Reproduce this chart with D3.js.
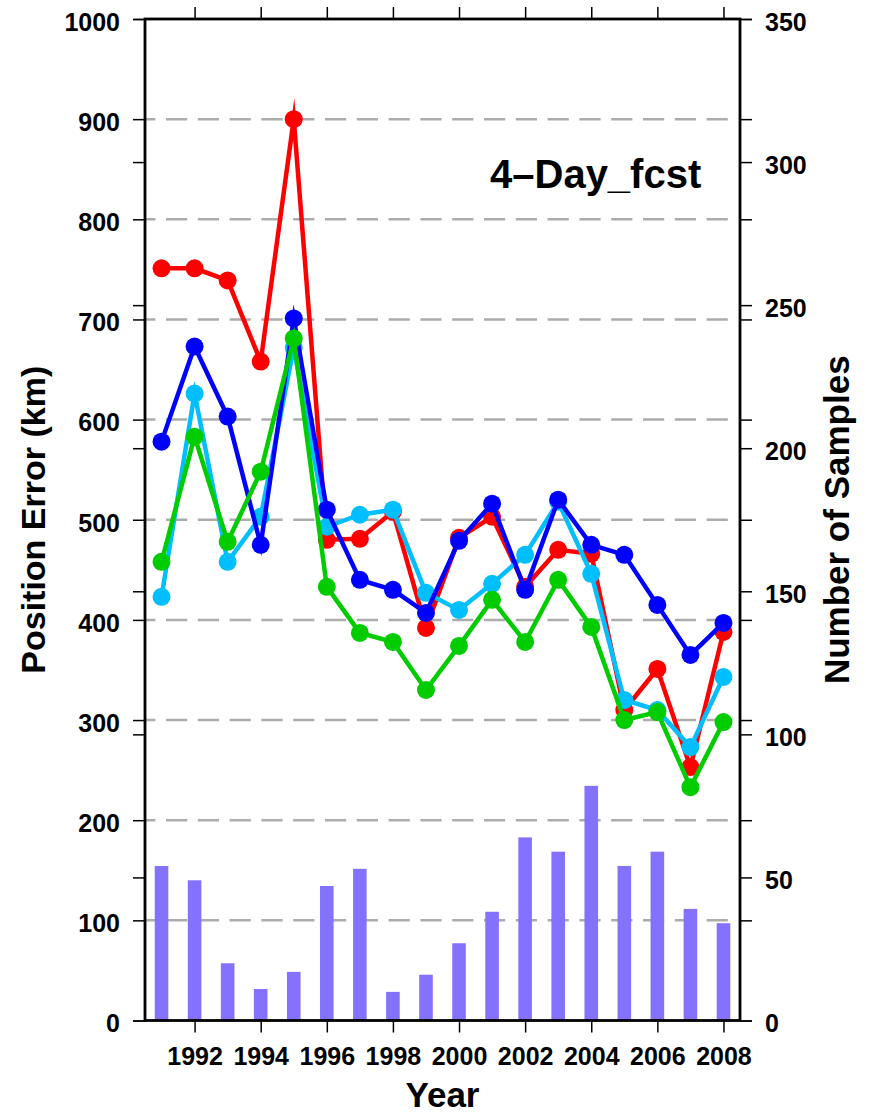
<!DOCTYPE html>
<html>
<head>
<meta charset="utf-8">
<script src="https://cdn.jsdelivr.net/npm/d3@7"></script>
<style>
  body { margin: 0; background: #fff; }
  text { font-family: "Liberation Sans", Arial, Helvetica, sans-serif; font-weight: bold; fill: #000; }
</style>
</head>
<body>
<svg id="chart" width="873" height="1114"></svg>
<script>
// Forecast years
const years = [1991, 1992, 1993, 1994, 1995, 1996, 1997, 1998, 1999,
               2000, 2001, 2002, 2003, 2004, 2005, 2006, 2007, 2008];

// Number of verified samples per year (right axis, bars)
const sampleCounts = [54, 49, 20, 11, 17, 47, 53, 10, 16, 27, 38, 64, 59, 82, 54, 59, 39, 34];

// 4-day position errors in km (left axis), one list per model
const errorRed   = [751, 751, 739, 658, 900, 480, 481, 508, 392, 482, 503, 433, 470, 466, 310, 351, 253, 388];
const errorCyan  = [423, 626, 458, 503, 672, 493, 505, 510, 427, 410, 436, 465, 518, 446, 320, 310, 273, 343];
const errorBlue  = [578, 673, 603, 475, 701, 510, 440, 430, 407, 479, 516, 430, 520, 475, 465, 415, 365, 397];
const errorGreen = [458, 583, 478, 548, 681, 433, 387, 378, 330, 374, 420, 378, 440, 393, 300, 308, 233, 298];

// Tick labels
const errorTicks  = [0, 100, 200, 300, 400, 500, 600, 700, 800, 900, 1000];
const sampleTicks = [0, 50, 100, 150, 200, 250, 300, 350];
const yearTicks   = [1992, 1994, 1996, 1998, 2000, 2002, 2004, 2006, 2008];
const gridLevels  = [100, 200, 300, 400, 500, 600, 700, 800, 900];

const svg = d3.select("#chart");
const plot = { left: 145, right: 740, top: 19, bottom: 1020.5 };

const x = d3.scaleLinear().domain([1990.5, 2008.5]).range([plot.left, plot.right]);
const yErr = d3.scaleLinear().domain([0, 1000]).range([plot.bottom, plot.top]);
const ySamp = d3.scaleLinear().domain([0, 350]).range([plot.bottom, plot.top]);

svg.append("rect").attr("width", 873).attr("height", 1114).attr("fill", "#fff");

// Dashed reference lines
svg.append("g").selectAll("line").data(gridLevels).join("line")
  .attr("x1", plot.left).attr("x2", plot.right - 11)
  .attr("y1", d => yErr(d)).attr("y2", d => yErr(d))
  .attr("stroke", "#acacac").attr("stroke-width", 2.5)
  .attr("stroke-dasharray", "21.2 10.6").attr("stroke-dashoffset", 10.8);

// Sample-count bars
const barW = 13.6;
svg.append("g").selectAll("rect").data(sampleCounts).join("rect")
  .attr("x", (d, i) => x(years[i]) - barW / 2)
  .attr("width", barW)
  .attr("y", d => ySamp(d))
  .attr("height", d => ySamp(0) - ySamp(d))
  .attr("fill", "#8472ff");

// Error series
const series = [
  { values: errorRed,   color: "#ff0000" },
  { values: errorCyan,  color: "#00bfff" },
  { values: errorBlue,  color: "#0000ff" },
  { values: errorGreen, color: "#00cc00" }
];
const line = d3.line().x((d, i) => x(years[i])).y(d => yErr(d));

series.forEach(s => {
  const g = svg.append("g");
  g.append("path").datum(s.values)
    .attr("d", line)
    .attr("fill", "none")
    .attr("stroke", s.color)
    .attr("stroke-width", 4.5)
    .attr("stroke-linejoin", "miter")
    .attr("stroke-miterlimit", 12);
  g.selectAll("circle").data(s.values).join("circle")
    .attr("cx", (d, i) => x(years[i]))
    .attr("cy", d => yErr(d))
    .attr("r", 9)
    .attr("fill", s.color);
});

// Axes
const tickLen = 12;
function styleAxis(g, fontSize) {
  g.select(".domain").remove();
  g.selectAll(".tick line").attr("stroke", "#000").attr("stroke-width", 1.5);
  g.selectAll(".tick text").attr("font-size", fontSize)
    .style("font-family", "'Liberation Sans', Arial, sans-serif").style("font-weight", "bold");
}

// Left: labelled error ticks plus unlabelled sample ticks
svg.append("g").attr("transform", `translate(${plot.left},0)`)
  .call(d3.axisLeft(yErr).tickValues(errorTicks).tickSize(tickLen).tickPadding(13).tickFormat(d3.format("d")))
  .call(g => styleAxis(g, 25))
  .call(g => g.selectAll(".tick text").attr("dy", "0.45em"));
svg.append("g").attr("transform", `translate(${plot.left},0)`)
  .call(d3.axisLeft(ySamp).tickValues(sampleTicks).tickSize(tickLen).tickFormat(""))
  .call(g => styleAxis(g, 25));

// Right: labelled sample ticks plus unlabelled error ticks
svg.append("g").attr("transform", `translate(${plot.right},0)`)
  .call(d3.axisRight(ySamp).tickValues(sampleTicks).tickSize(tickLen).tickPadding(13).tickFormat(d3.format("d")))
  .call(g => styleAxis(g, 25))
  .call(g => g.selectAll(".tick text").attr("dy", "0.45em"));
svg.append("g").attr("transform", `translate(${plot.right},0)`)
  .call(d3.axisRight(yErr).tickValues(errorTicks).tickSize(tickLen).tickFormat(""))
  .call(g => styleAxis(g, 25));

// Bottom and top year ticks
svg.append("g").attr("transform", `translate(0,${plot.bottom})`)
  .call(d3.axisBottom(x).tickValues(yearTicks).tickSize(tickLen).tickPadding(15).tickFormat(d3.format("d")))
  .call(g => styleAxis(g, 25));
svg.append("g").attr("transform", `translate(0,${plot.top})`)
  .call(d3.axisTop(x).tickValues(yearTicks).tickSize(tickLen).tickFormat(""))
  .call(g => styleAxis(g, 25));

// Plot frame
svg.append("rect")
  .attr("x", plot.left).attr("y", plot.top)
  .attr("width", plot.right - plot.left).attr("height", plot.bottom - plot.top)
  .attr("fill", "none").attr("stroke", "#000").attr("stroke-width", 2.8);

// Titles
svg.append("text").attr("x", 490).attr("y", 188).attr("font-size", 40).text("4–Day_fcst");

svg.append("text").attr("text-anchor", "middle").attr("font-size", 35)
  .attr("x", (plot.left + plot.right) / 2).attr("y", 1107).text("Year");

svg.append("text").attr("text-anchor", "middle").attr("font-size", 34)
  .attr("transform", `translate(45,${(plot.top + plot.bottom) / 2}) rotate(-90)`)
  .text("Position Error (km)");

svg.append("text").attr("text-anchor", "middle").attr("font-size", 35)
  .attr("transform", `translate(849,${(plot.top + plot.bottom) / 2}) rotate(-90)`)
  .text("Number of Samples");
</script>
</body>
</html>
